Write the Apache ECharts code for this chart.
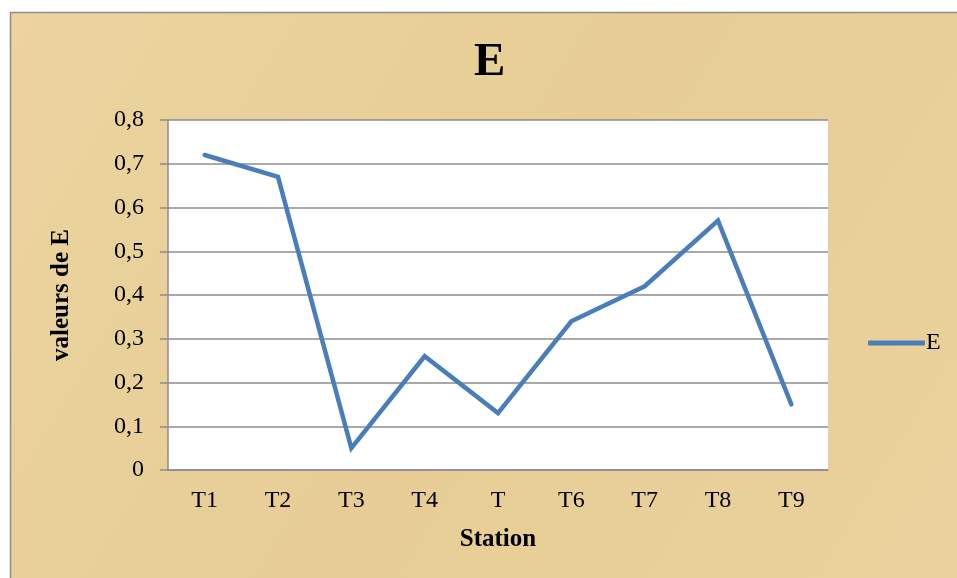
<!DOCTYPE html>
<html>
<head>
<meta charset="utf-8">
<script src="https://cdn.jsdelivr.net/npm/echarts@6/dist/echarts.min.js"></script>
<style>
html,body{margin:0;padding:0;background:#ffffff;}
#c{width:957px;height:578px;}
</style>
</head>
<body>
<div id="c"></div>
<script>
const categories = ['T1','T2','T3','T4','T','T6','T7','T8','T9'];
const valuesE = [0.72, 0.67, 0.05, 0.26, 0.13, 0.34, 0.42, 0.57, 0.15];
const seriesName = 'E';
const yTickLabels = ['0','0,1','0,2','0,3','0,4','0,5','0,6','0,7','0,8'];

const chart = echarts.init(document.getElementById('c'), null, {renderer:'canvas'});
const serif = 'Liberation Serif, Times New Roman, serif';
chart.setOption({
  backgroundColor: '#ffffff',
  animation: false,
  graphic: [{
    type: 'rect', z: -10, silent: true,
    shape: {x: 10.5, y: 12.5, width: 955, height: 575},
    style: {
      fill: new echarts.graphic.LinearGradient(0,0,1,1,[
        {offset:0, color:'#ebd4a0'},
        {offset:0.5, color:'#e7cd95'},
        {offset:1, color:'#ead29e'}
      ]),
      stroke: '#8c8c8c', lineWidth: 1.5
    }
  }],
  title: {
    text: 'E', left: 469, top: 34,
    textStyle: {fontFamily: serif, fontWeight: 'bold', fontSize: 47, color: '#000'}
  },
  legend: {
    left: 863, top: 326,
    data: [seriesName],
    icon: 'roundRect', itemWidth: 57, itemHeight: 5, itemGap: 0,
    textStyle: {fontFamily: serif, fontSize: 24, color: '#000', padding: [0,0,0,-4]}
  },
  grid: {left: 168, top: 120, right: 129, bottom: 108, show: true, backgroundColor: '#ffffff', borderWidth: 0},
  xAxis: {
    type: 'category', data: categories, boundaryGap: true,
    name: 'Station', nameLocation: 'middle', nameGap: 57,
    nameTextStyle: {fontFamily: serif, fontWeight: 'bold', fontSize: 25, color: '#000'},
    axisLine: {lineStyle: {color: '#8c8c8c', width: 1.5}},
    axisTick: {show: false},
    axisLabel: {fontFamily: serif, fontSize: 24, color: '#000', margin: 19}
  },
  yAxis: {
    type: 'value', min: 0, max: 0.8, interval: 0.1,
    name: 'valeurs de E', nameLocation: 'middle', nameGap: 94, nameRotate: 90,
    nameTextStyle: {fontFamily: serif, fontWeight: 'bold', fontSize: 25, color: '#000'},
    axisLine: {show: true, lineStyle: {color: '#8c8c8c', width: 1.5}},
    axisTick: {show: true, length: 8, lineStyle: {color: '#8c8c8c', width: 1.5}},
    splitLine: {lineStyle: {color: '#8c8c8c', width: 1.5}},
    axisLabel: {
      fontFamily: serif, fontSize: 24, color: '#000', margin: 24,
      formatter: function (v) { return yTickLabels[Math.round(v * 10)]; }
    }
  },
  series: [{
    name: seriesName, type: 'line', data: valuesE,
    symbol: 'none', smooth: false,
    lineStyle: {color: '#4a7ebb', width: 4.5, cap: 'round', join: 'miter'},
    itemStyle: {color: '#4a7ebb'}
  }]
});
</script>
</body>
</html>
